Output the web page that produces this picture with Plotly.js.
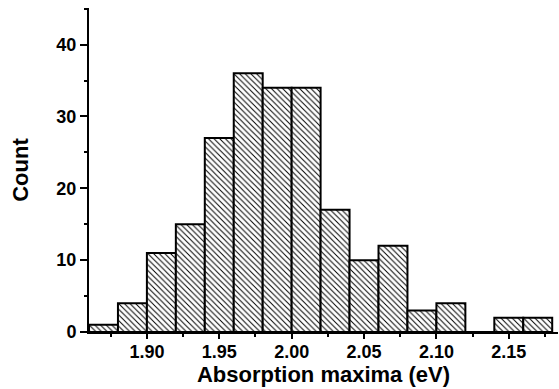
<!DOCTYPE html>
<html>
<head>
<meta charset="utf-8">
<script src="https://cdn.plot.ly/plotly-3.0.1.min.js"></script>
<style>html,body{margin:0;padding:0;background:#fff;}#chart{width:559px;height:389px;}</style>
</head>
<body>
<div id="chart"></div>
<script>
// Histogram bins (left edge of each 0.02 eV bin) and counts
const binStarts = [1.86, 1.88, 1.90, 1.92, 1.94, 1.96, 1.98, 2.00, 2.02, 2.04, 2.06, 2.08, 2.10, 2.12, 2.14, 2.16];
const counts    = [1, 4, 11, 15, 27, 36, 34, 34, 17, 10, 12, 3, 4, 0, 2, 2];
const binWidth = 0.02;
const xTickVals = [1.90, 1.95, 2.00, 2.05, 2.10, 2.15];
const yTickVals = [0, 10, 20, 30, 40];

const font = {family: 'Liberation Sans, Arial, sans-serif', color: '#000'};

const trace = {
  type: 'bar',
  x: binStarts,
  y: counts,
  width: binStarts.map(() => binWidth),
  offset: 0,
  marker: {
    color: '#fff',
    line: {color: '#000', width: 2},
    pattern: {shape: '\\', size: 4, solidity: 0.25, fgcolor: '#000', bgcolor: '#fff'}
  },
  hoverinfo: 'skip'
};

const layout = {
  width: 559, height: 389,
  margin: {l: 89, r: 1, t: 8, b: 57},
  paper_bgcolor: '#fff', plot_bgcolor: '#fff',
  showlegend: false,
  bargap: 0,
  xaxis: {
    range: [1.86, 2.184],
    tickvals: xTickVals,
    ticktext: xTickVals.map(v => v.toFixed(2)),
    ticks: 'outside', ticklen: 5, tickwidth: 2, tickcolor: '#000',
    ticklabelstandoff: -3,
    minor: {dtick: 0.05, tick0: 1.875, ticks: 'outside', ticklen: 3, tickwidth: 2, tickcolor: '#000'},
    showline: true, linecolor: '#000', linewidth: 2,
    showgrid: false, zeroline: false,
    tickfont: Object.assign({size: 18, weight: 'bold'}, font),
    title: {text: '<b>Absorption maxima (eV)</b>', font: Object.assign({size: 22}, font), standoff: 0}
  },
  yaxis: {
    range: [0, 45.1],
    tickvals: yTickVals,
    ticks: 'outside', ticklen: 7, tickwidth: 2, tickcolor: '#000',
    minor: {dtick: 10, tick0: 5, ticks: 'outside', ticklen: 3, tickwidth: 2, tickcolor: '#000'},
    showline: true, linecolor: '#000', linewidth: 2,
    showgrid: false, zeroline: false,
    tickfont: Object.assign({size: 18, weight: 'bold'}, font),
    title: {text: '<b>Count</b>', font: Object.assign({size: 22}, font), standoff: 22}
  }
};

Plotly.newPlot('chart', [trace], layout, {displayModeBar: false, staticPlot: true});
</script>
</body>
</html>
